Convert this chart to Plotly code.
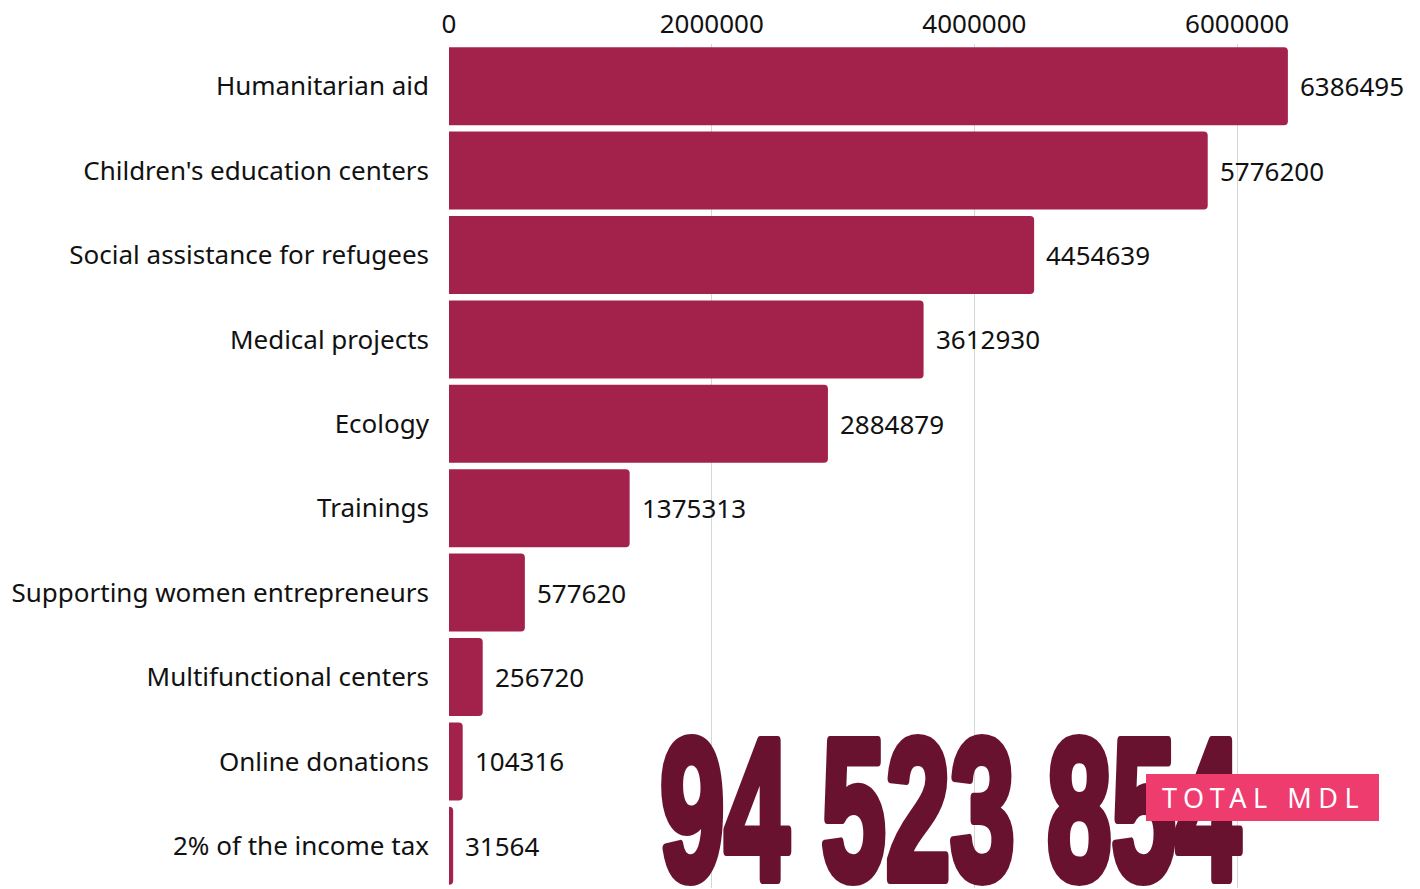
import plotly.graph_objects as go

categories = [
    "Humanitarian aid",
    "Children's education centers",
    "Social assistance for refugees",
    "Medical projects",
    "Ecology",
    "Trainings",
    "Supporting women entrepreneurs",
    "Multifunctional centers",
    "Online donations",
    "2% of the income tax",
]
values = [6386495, 5776200, 4454639, 3612930, 2884879, 1375313, 577620, 256720, 104316, 31564]
tick_values = [0, 2000000, 4000000, 6000000]
tick_labels = ["0", "2000000", "4000000", "6000000"]
total_text = "94 523 854"
total_label = "TOTAL MDL"

BAR = "#A3224B"
DARK = "#69122F"
PINK = "#EF3C6F"
FONT = "Noto Sans"
FS = 26

fig = go.Figure()
fig.add_trace(go.Bar(
    x=values,
    y=categories,
    orientation="h",
    marker=dict(color=BAR, cornerradius=4, line=dict(width=0)),
    hoverinfo="skip",
))

annotations = []
for c, v in zip(categories, values):
    annotations.append(dict(
        x=v, y=c, xref="x", yref="y", text=str(v), showarrow=False,
        xanchor="left", yanchor="middle", xshift=10,
        font=dict(family=FONT, size=FS, color="#111111"),
    ))

annotations.append(dict(
    x=0.2198, y=0.0935, xref="paper", yref="paper", text=total_text,
    showarrow=False, xanchor="left", yanchor="middle",
    font=dict(family="Liberation Sans", size=200, color=DARK, weight=700),
    name="bigtotal",
))
annotations.append(dict(
    x=0.8554, y=0.1072, xref="paper", yref="paper", text=total_label,
    showarrow=False, xanchor="center", yanchor="middle",
    width=233, height=47, borderpad=0, borderwidth=0, bgcolor=PINK,
    font=dict(family=FONT, size=27, color="white"),
    name="totallabel",
))

fig.update_layout(
    width=1420, height=889,
    margin=dict(l=449, r=20, t=44, b=1),
    paper_bgcolor="white", plot_bgcolor="white",
    bargap=0.076,
    showlegend=False,
    font=dict(family=FONT, size=FS, color="#111111"),
    annotations=annotations,
    xaxis=dict(
        side="top", range=[0, 7240000],
        tickvals=tick_values, ticktext=tick_labels,
        showgrid=True, gridcolor="#d6d6d6", gridwidth=1,
        zeroline=False, showline=False, ticks="", ticklabelstandoff=5,
        tickfont=dict(family=FONT, size=FS, color="#111111"),
    ),
    yaxis=dict(
        autorange="reversed", showgrid=False, zeroline=False, showline=False,
        ticks="", ticklabelstandoff=19,
        tickfont=dict(family=FONT, size=FS, color="#111111"),
    ),
)

post = """
document.body.style.margin = '0';
document.body.style.padding = '0';
var gd = document.getElementById('{plot_id}');
function fix(){
  var texts = gd.querySelectorAll('text.annotation-text');
  texts.forEach(function(el){
    var t = el.textContent;
    if (t.indexOf('94') === 0 && t.length > 8) {
      el.removeAttribute('transform');
      el.style.stroke = '#69122F';
      el.style.strokeWidth = '10px';
      el.style.strokeLinejoin = 'round';
      var bb = el.getBBox();
      var L = bb.x;
      el.setAttribute('transform', 'translate(' + L + ',0) scale(0.58,1) translate(' + (-L) + ',0)');
    } else if (t === 'TOTAL MDL') {
      el.style.letterSpacing = '6.5px';
      el.setAttribute('dx', '1');
    }
  });
}
fix();
gd.on('plotly_afterplot', fix);
"""

fig.write_html("out.html", post_script=post, config={"displayModeBar": False})
